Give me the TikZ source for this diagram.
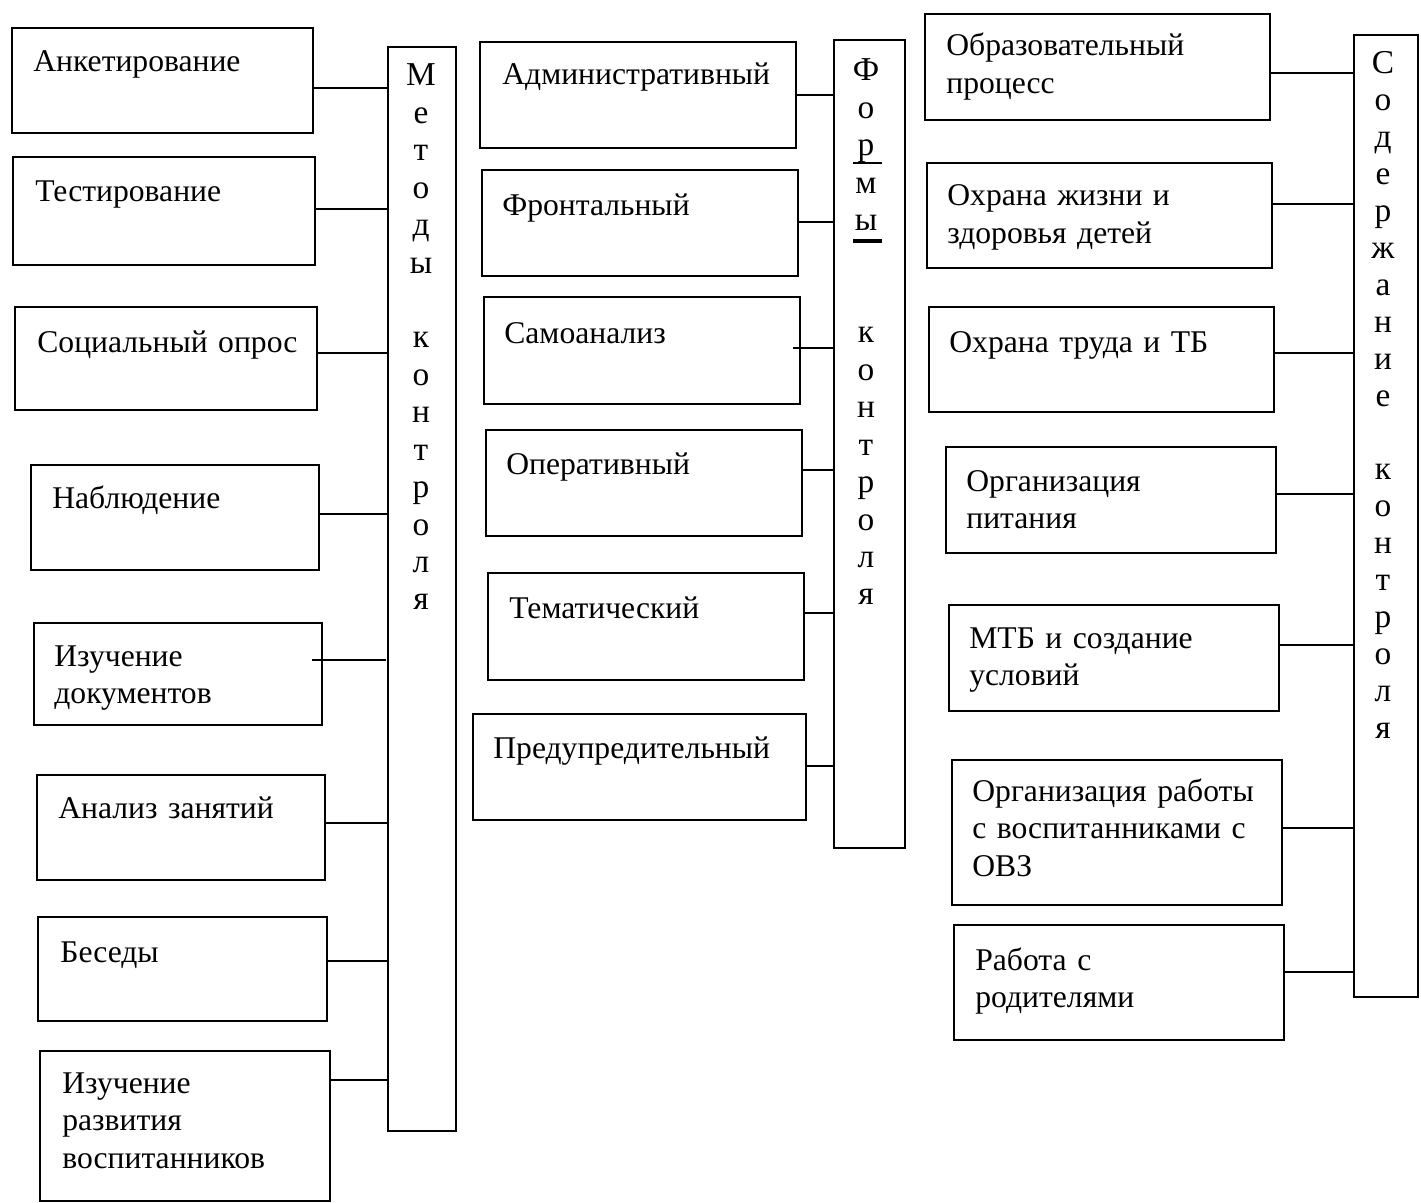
\documentclass[tikz,border=0pt]{standalone}
\usepackage{fontspec}
\setmainfont{Liberation Serif}
\newcommand\mybox[5]{\node[box,minimum width={(#4-#2)*0.02cm},minimum height={(#5-#3)*0.02cm}] (#1) at ({(#2+#4)/2},{(#3+#5)/2}) {};}
\tikzset{
  box/.style={draw,line width=1.4pt,inner sep=0pt,outer sep=0pt},
  txt/.style={anchor=base west,inner sep=0pt,text width=8cm,align=left,font=\fontsize{18}{21.5}\selectfont},
  vtxt/.style={anchor=base,inner sep=0pt,text width=1cm,align=center,font=\fontsize{19}{21.3}\selectfont},
  link/.style={line width=1.4pt}
}
\begin{document}
\begin{tikzpicture}[x=0.02cm,y=-0.02cm]
\useasboundingbox (0,0) rectangle (1421,1203);
% left column
\mybox{L1}{12}{28}{313}{133}
\mybox{L2}{13}{157}{315}{265}
\mybox{L3}{15}{307}{317}{410}
\mybox{L4}{31}{465}{319}{570}
\mybox{L5}{34}{623}{322}{725}
\mybox{L6}{37}{775}{325}{880}
\mybox{L7}{38}{917}{327}{1021}
\mybox{L8}{40}{1051}{330}{1201}
\mybox{M}{388}{47}{456}{1131}
% middle column
\mybox{C1}{480}{42}{796}{148}
\mybox{C2}{482}{170}{798}{276}
\mybox{C3}{484}{297}{800}{404}
\mybox{C4}{486}{430}{802}{536}
\mybox{C5}{488}{573}{804}{680}
\mybox{C6}{473}{714}{806}{820}
\mybox{F}{834}{40}{905}{848}
% right column
\mybox{R1}{925}{14}{1270}{120}
\mybox{R2}{927}{163}{1272}{268}
\mybox{R3}{929}{307}{1274}{412}
\mybox{R4}{946}{447}{1276}{553}
\mybox{R5}{949}{605}{1279}{711}
\mybox{R6}{952}{760}{1282}{905}
\mybox{R7}{954}{925}{1284}{1040}
\mybox{S}{1354}{35}{1418}{997}
% texts
\node[txt] (tL1) at (33,72) {Анкетирование};
\node[txt] (tL2) at (35,201) {Тестирование};
\node[txt] (tL3) at (37,352) {Социальный опрос};
\node[txt] (tL4) at (52,508) {Наблюдение};
\node[txt] (tL5) at (54,666) {Изучение\\документов};
\node[txt] (tL6) at (58,818) {Анализ занятий};
\node[txt] (tL7) at (60,962) {Беседы};
\node[txt] (tL8) at (62,1093) {Изучение\\развития\\воспитанников};
\node[txt] (tC1) at (502,85) {Административный};
\node[txt] (tC2) at (502,215) {Фронтальный};
\node[txt] (tC3) at (504,343) {Самоанализ};
\node[txt] (tC4) at (506,474) {Оперативный};
\node[txt] (tC5) at (509,618) {Тематический};
\node[txt] (tC6) at (493,758) {Предупредительный};
\node[txt] (tR1) at (946,56) {Образовательный\\процесс};
\node[txt] (tR2) at (947,206) {Охрана жизни и\\здоровья детей};
\node[txt] (tR3) at (949,352) {Охрана труда и ТБ};
\node[txt] (tR4) at (966,491) {Организация\\питания};
\node[txt] (tR5) at (969,648) {МТБ и создание\\условий};
\node[txt] (tR6) at (972,801) {Организация работы\\с воспитанниками с\\ОВЗ};
\node[txt] (tR7) at (975,970) {Работа с\\родителями};
% vertical texts
\node[vtxt] (tM) at (421,86) {М\\е\\т\\о\\д\\ы\\[21.3pt]к\\о\\н\\т\\р\\о\\л\\я};
\node[vtxt] (tF) at (866,81) {Ф\\о\\р\\м\\ы\\[42.6pt]к\\о\\н\\т\\р\\о\\л\\я};
\node[vtxt,font=\fontsize{19}{21}\selectfont] (tS) at (1383,74) {С\\о\\д\\е\\р\\ж\\а\\н\\и\\е\\[21pt]к\\о\\н\\т\\р\\о\\л\\я};
\draw[line width=0.8pt] (853,163) -- (882,163);
\draw[line width=2.8pt] (853,241) -- (882,241);
% connectors left
\draw[link] (L1.east |- 0,88) -- (M.west |- 0,88);
\draw[link] (L2.east |- 0,209) -- (M.west |- 0,209);
\draw[link] (L3.east |- 0,353) -- (M.west |- 0,353);
\draw[link] (L4.east |- 0,514) -- (M.west |- 0,514);
\coordinate (l5a) at (312,660);
\coordinate (l5b) at (386,660);
\draw[link] (l5a) -- (l5b);
\draw[link] (L6.east |- 0,823) -- (M.west |- 0,823);
\draw[link] (L7.east |- 0,961) -- (M.west |- 0,961);
\draw[link] (L8.east |- 0,1080) -- (M.west |- 0,1080);
% connectors middle
\draw[link] (C1.east |- 0,95) -- (F.west |- 0,95);
\draw[link] (C2.east |- 0,222) -- (F.west |- 0,222);
\coordinate (c3a) at (793,348);
\draw[link] (c3a) -- (F.west |- 0,348);
\draw[link] (C4.east |- 0,470) -- (F.west |- 0,470);
\draw[link] (C5.east |- 0,613) -- (F.west |- 0,613);
\draw[link] (C6.east |- 0,766) -- (F.west |- 0,766);
% connectors right
\draw[link] (R1.east |- 0,73) -- (S.west |- 0,73);
\draw[link] (R2.east |- 0,204) -- (S.west |- 0,204);
\draw[link] (R3.east |- 0,353) -- (S.west |- 0,353);
\draw[link] (R4.east |- 0,494) -- (S.west |- 0,494);
\draw[link] (R5.east |- 0,645) -- (S.west |- 0,645);
\draw[link] (R6.east |- 0,828) -- (S.west |- 0,828);
\draw[link] (R7.east |- 0,972) -- (S.west |- 0,972);
\end{tikzpicture}
\end{document}
